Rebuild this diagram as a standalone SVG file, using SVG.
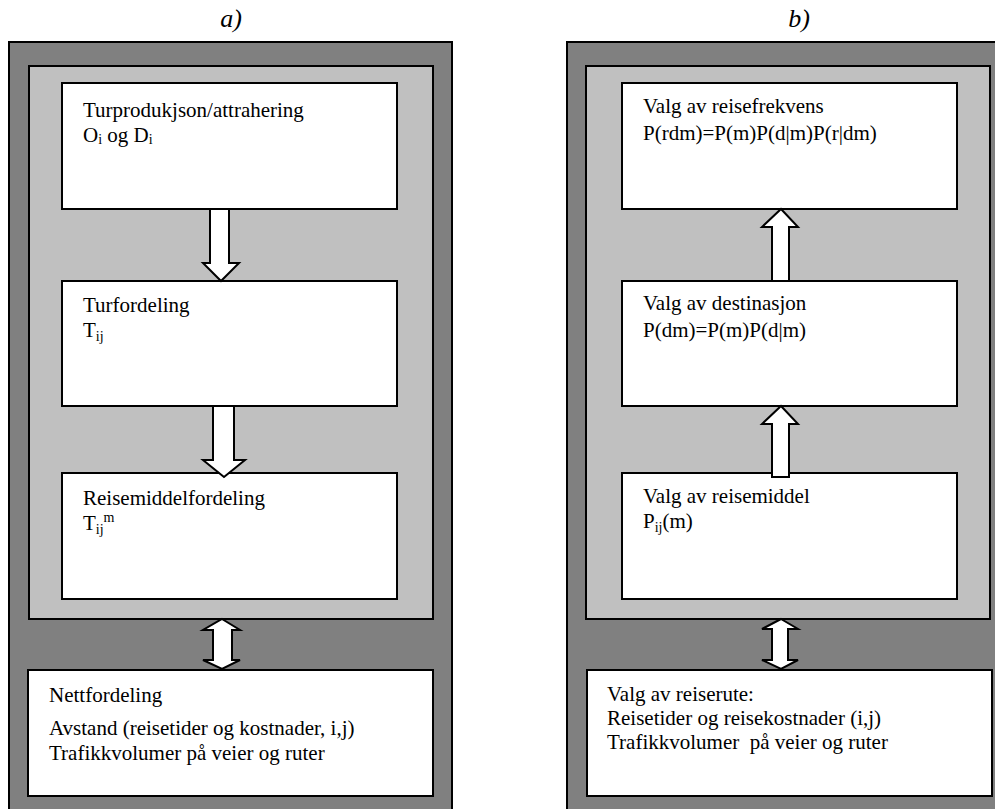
<svg xmlns="http://www.w3.org/2000/svg" width="995" height="809" viewBox="0 0 995 809">
<style>
.outer{fill:#808080;stroke:#000;stroke-width:2}
.inner{fill:#c0c0c0;stroke:#000;stroke-width:2}
.box{fill:#fff;stroke:#000;stroke-width:2}
.arr{fill:#fff;stroke:#000;stroke-width:2;stroke-linejoin:miter}
text{font-family:"Liberation Serif","Times New Roman",serif;font-size:21px;fill:#000}
.lbl{font-style:italic;font-size:26px}
.sub{font-size:14px}
</style>
<rect width="995" height="809" fill="#fff"/>
<text class="lbl" x="231" y="27" text-anchor="middle">a)</text>
<text class="lbl" x="799" y="27" text-anchor="middle">b)</text>
<g id="panel-a">
<rect class="outer" x="9" y="42" width="443" height="780"/>
<rect class="inner" x="29" y="66" width="404" height="553"/>
</g>
<g id="panel-b">
<rect class="outer" x="567" y="42" width="450" height="780"/>
<rect class="inner" x="586" y="66" width="404" height="553"/>
</g>
<g id="a1"><rect class="box" x="62" y="83" width="335" height="126"/>
<text x="83" y="117">Turprodukjson/attrahering</text>
<text x="83" y="142">O<tspan class="sub" dy="2">i</tspan><tspan dy="-2"> og D</tspan><tspan class="sub" dy="2">i</tspan></text></g>
<g id="a2"><rect class="box" x="62" y="281" width="335" height="125"/>
<text x="83" y="312">Turfordeling</text>
<text x="83" y="337">T<tspan class="sub" dy="4">ij</tspan></text></g>
<g id="a3"><rect class="box" x="62" y="473" width="335" height="126"/>
<text x="83" y="505">Reisemiddelfordeling</text>
<text x="83" y="530">T<tspan class="sub" dy="4">ij</tspan><tspan class="sub" dy="-12">m</tspan></text></g>
<g id="a4"><rect class="box" x="28" y="670" width="405" height="126"/>
<text x="49" y="702">Nettfordeling</text>
<text x="49" y="735">Avstand (reisetider og kostnader, i,j)</text>
<text x="49" y="760">Trafikkvolumer på veier og ruter</text></g>
<g id="b1"><rect class="box" x="622" y="83" width="335" height="126"/>
<text x="643" y="113">Valg av reisefrekvens</text>
<text x="643" y="140">P(rdm)=P(m)P(d|m)P(r|dm)</text></g>
<g id="b2"><rect class="box" x="622" y="281" width="335" height="125"/>
<text x="643" y="310">Valg av destinasjon</text>
<text x="643" y="337">P(dm)=P(m)P(d|m)</text></g>
<g id="b3"><rect class="box" x="622" y="473" width="335" height="126"/>
<text x="643" y="503">Valg av reisemiddel</text>
<text x="643" y="528">P<tspan class="sub" dy="4">ij</tspan><tspan dy="-4">(m)</tspan></text></g>
<g id="b4"><rect class="box" x="587" y="670" width="405" height="126"/>
<text x="607" y="701">Valg av reiserute:</text>
<text x="607" y="725">Reisetider og reisekostnader (i,j)</text>
<text x="607" y="749">Trafikkvolumer&#160; på veier og ruter</text></g>
<g id="connectors">
<polygon class="arr" points="210,209 229,209 229,263 239,263 221,281 203,263 210,263"/>
<polygon class="arr" points="213,406 234,406 234,460 245,460 224,477 203,460 213,460"/>
<polygon class="arr" points="222,619 240,630 232,630 232,660 240,660 222,669 203,660 213,660 213,630 203,630"/>
<polygon class="arr" points="781,209 798,227 789,227 789,281 772,281 772,227 762,227"/>
<polygon class="arr" points="781,406 798,424 789,424 789,477 772,477 772,424 762,424"/>
<polygon class="arr" points="781,619 798,629 788,629 788,660 798,660 781,669 762,660 772,660 772,629 762,629"/>
</g>
</svg>
